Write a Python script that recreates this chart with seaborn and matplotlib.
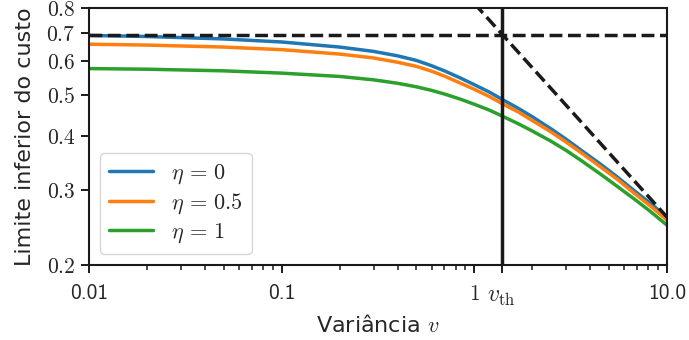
import pandas as pd
import seaborn as sns
import matplotlib.pyplot as plt
from matplotlib.ticker import NullLocator

# values (log-log axes)
variance = [0.01, 0.02, 0.05, 0.1, 0.2, 0.3, 0.4, 0.5, 0.6, 0.7, 0.85, 1.0,
            1.2, 1.39, 1.7, 2.0, 2.5, 3.0, 3.6, 4.5, 5.5, 6.8, 8.2, 10.0]
cost_eta0 = [0.690, 0.686, 0.677, 0.666, 0.648, 0.633, 0.618, 0.603, 0.586, 0.570, 0.548, 0.529,
             0.508, 0.489, 0.465, 0.445, 0.417, 0.394, 0.371, 0.345, 0.322, 0.298, 0.279, 0.259]
cost_eta05 = [0.658, 0.655, 0.648, 0.639, 0.624, 0.611, 0.597, 0.584, 0.569, 0.554, 0.533, 0.516,
              0.496, 0.478, 0.456, 0.436, 0.410, 0.388, 0.366, 0.340, 0.318, 0.294, 0.275, 0.255]
cost_eta1 = [0.577, 0.575, 0.570, 0.563, 0.553, 0.543, 0.533, 0.523, 0.513, 0.503, 0.489, 0.476,
             0.461, 0.447, 0.428, 0.412, 0.390, 0.371, 0.351, 0.327, 0.306, 0.285, 0.267, 0.248]
eta_labels = [r'$\eta\,=\,0$', r'$\eta\,=\,0.5$', r'$\eta\,=\,1$']

h_bound = 0.693          # horizontal dashed bound
v_th = 1.39              # threshold variance
diag_v = [1.0, 10.0]     # dashed asymptote
diag_cost = [0.82, 0.259]

xtick_vals = [0.01, 0.1, 1, v_th, 10]
xtick_labels = ['0.01', '0.1', r'$1$', r'$v_{\rm th}$', '10.0']
ytick_vals = [0.2, 0.3, 0.4, 0.5, 0.6, 0.7, 0.8]
ytick_labels = ['$%.1f$' % t for t in ytick_vals]

# long table for seaborn
frames = []
for lab, vals in zip(eta_labels, [cost_eta0, cost_eta05, cost_eta1]):
    frames.append(pd.DataFrame({'v': variance, 'cost': vals, 'eta': lab}))
data = pd.concat(frames)

sns.set_theme(style='ticks')
plt.rcParams['mathtext.fontset'] = 'cm'
plt.rcParams['font.family'] = ['DejaVu Sans']

fig = plt.figure(figsize=(6.89, 3.40), dpi=100)
ax = fig.add_axes([0.129, 0.2206, 0.839, 0.7559])

palette = sns.color_palette('tab10', 3)
sns.lineplot(data=data, x='v', y='cost', hue='eta', palette=palette,
             linewidth=2.5, ax=ax)

ax.axhline(h_bound, color='k', ls='--', lw=2.5)
ax.axvline(v_th, color='k', lw=2.5)
ax.plot(diag_v, diag_cost, color='k', ls='--', lw=2.5)

ax.set_xscale('log')
ax.set_yscale('log')
ax.set_xlim(0.01, 10)
ax.set_ylim(0.2, 0.8)

ax.set_xticks(xtick_vals)
ax.set_xticklabels(xtick_labels, fontsize=15.5)
for lbl in ax.get_xticklabels():
    if not lbl.get_text().startswith('$'):
        lbl.set_family(['cmss10', 'DejaVu Sans'])
    elif 'th' in lbl.get_text():
        lbl.set_fontsize(17)
ax.set_yticks(ytick_vals)
ax.set_yticklabels(ytick_labels, fontsize=15.5)
ax.yaxis.set_minor_locator(NullLocator())
ax.tick_params(which='major', length=6, width=1.4, color='k')
ax.tick_params(axis='x', which='major', pad=8)
ax.tick_params(which='minor', length=3.5, width=1.1, color='k')

ax.set_xlabel(r'Variância $v$', fontsize=16, labelpad=4)
ax.set_ylabel('Limite inferior do custo', fontsize=16, labelpad=8)

for spine in ax.spines.values():
    spine.set_visible(True)
    spine.set_color('k')
    spine.set_linewidth(1.5)

ax.legend(loc='lower left', fontsize=16, title=None, handlelength=2.0,
          labelspacing=0.25, borderaxespad=0.5)

fig.savefig('out.png', dpi=100)
